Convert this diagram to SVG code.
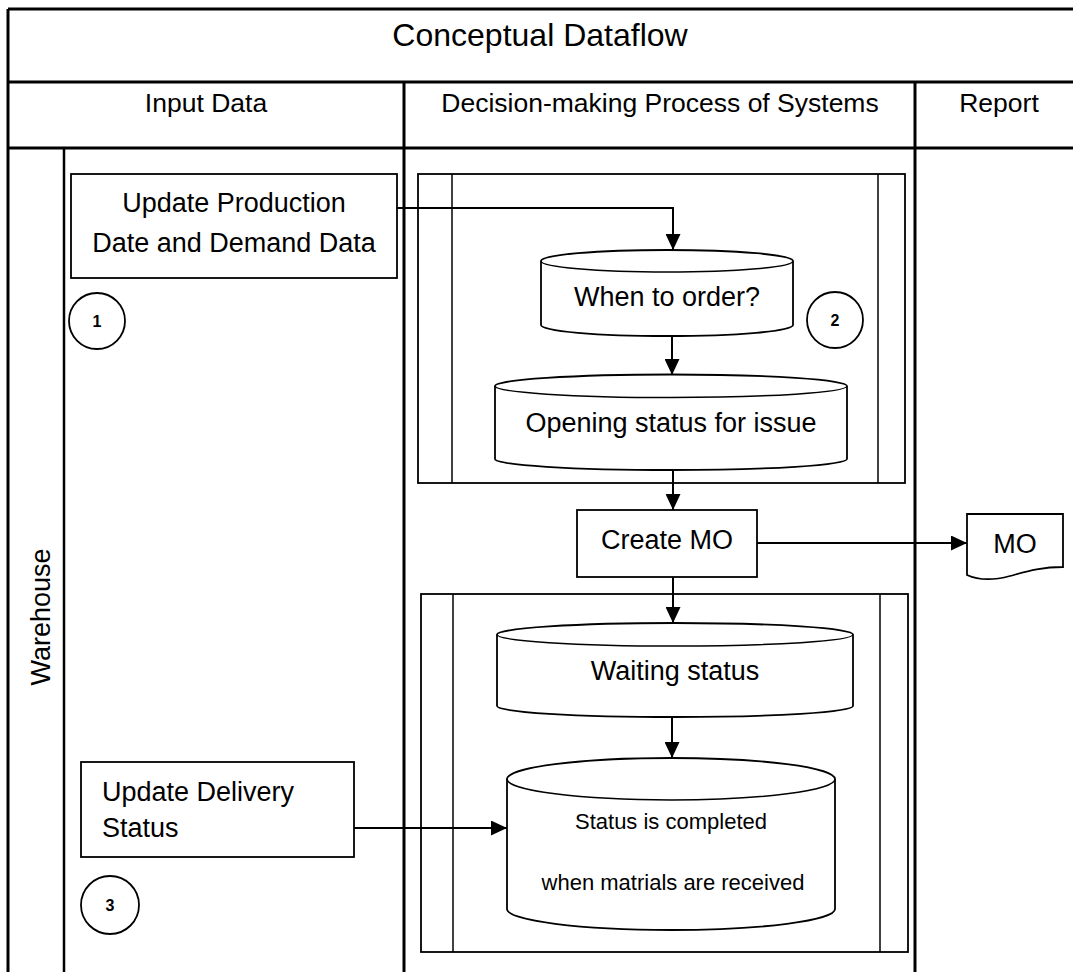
<svg xmlns="http://www.w3.org/2000/svg" width="1073" height="972" viewBox="0 0 1073 972">
  <style>
    text { font-family: "Liberation Sans", Arial, sans-serif; fill: #000; }
    .grid { stroke: #000; stroke-width: 3; fill: none; }
    .lane { stroke: #000; stroke-width: 2.5; fill: none; }
    .node { stroke: #000; stroke-width: 1.8; fill: #fff; }
    .inner { stroke: #000; stroke-width: 1.5; fill: none; }
    .conn { stroke: #000; stroke-width: 2; fill: none; }
    .title { font-size: 32px; text-anchor: middle; }
    .head { font-size: 26.5px; text-anchor: middle; }
    .lbl { font-size: 27px; text-anchor: middle; }
    .small { font-size: 22px; text-anchor: middle; }
    .num { font-size: 16px; font-weight: bold; text-anchor: middle; }
  </style>
  <defs>
    <marker id="arrow" markerUnits="userSpaceOnUse" markerWidth="16" markerHeight="15" refX="16" refY="7.5" orient="auto">
      <path d="M0,0 L16,7.5 L0,15 Z" fill="#000"/>
    </marker>
  </defs>
  <rect x="0" y="0" width="1073" height="972" fill="#fff"/>

  <g id="table">
    <line class="grid" x1="8" y1="9" x2="1073" y2="9"/>
    <line class="grid" x1="8" y1="82" x2="1073" y2="82"/>
    <line class="grid" x1="8" y1="148" x2="1073" y2="148"/>
    <line class="grid" x1="8" y1="9" x2="8" y2="972"/>
    <line class="grid" x1="404" y1="82" x2="404" y2="972"/>
    <line class="grid" x1="915" y1="82" x2="915" y2="972"/>
    <line class="lane" x1="64" y1="148" x2="64" y2="972"/>
    <text class="title" x="540" y="46">Conceptual Dataflow</text>
    <text class="head" x="206" y="112">Input Data</text>
    <text class="head" x="660" y="112">Decision-making Process of Systems</text>
    <text class="head" x="999" y="112">Report</text>
    <text class="lbl" transform="translate(50,617) rotate(-90)">Warehouse</text>
  </g>

  <g id="subprocess1">
    <rect class="node" x="418" y="174" width="487" height="309"/>
    <line class="inner" x1="452" y1="174" x2="452" y2="483"/>
    <line class="inner" x1="878" y1="174" x2="878" y2="483"/>
  </g>

  <g id="subprocess2">
    <rect class="node" x="421" y="594" width="487" height="358"/>
    <line class="inner" x1="453" y1="594" x2="453" y2="952"/>
    <line class="inner" x1="880" y1="594" x2="880" y2="952"/>
  </g>

  <g id="update-production">
    <rect class="node" x="71" y="174" width="326" height="104"/>
    <text class="lbl" x="234" y="212">Update Production</text>
    <text class="lbl" x="234" y="252">Date and Demand Data</text>
  </g>

  <g id="marker1">
    <circle class="node" cx="97" cy="321" r="28"/>
    <text class="num" x="97" y="327">1</text>
  </g>

  <g id="when-to-order">
    <path class="node" d="M541,261 A126,11 0 0 1 793,261 V325 A126,11 0 0 1 541,325 Z"/>
    <path class="inner" d="M541,261 A126,11 0 0 0 793,261"/>
    <text class="lbl" x="667" y="306">When to order?</text>
  </g>

  <g id="marker2">
    <circle class="node" cx="835" cy="320" r="28"/>
    <text class="num" x="835" y="326">2</text>
  </g>

  <g id="opening-status">
    <path class="node" d="M495,386 A176,11.5 0 0 1 847,386 V459 A176,11 0 0 1 495,459 Z"/>
    <path class="inner" d="M495,386 A176,11.5 0 0 0 847,386"/>
    <text class="lbl" x="671" y="432">Opening status for issue</text>
  </g>

  <g id="create-mo">
    <rect class="node" x="577" y="510" width="180" height="67"/>
    <text class="lbl" x="667" y="549">Create MO</text>
  </g>

  <g id="mo-report">
    <path class="node" d="M967,514 H1063 V567 C1040,567 1025,572 1010,576 C995,580 980,581 967,575 Z"/>
    <text class="lbl" x="1015" y="553">MO</text>
  </g>

  <g id="waiting-status">
    <path class="node" d="M497,634.5 A178,11.5 0 0 1 853,634.5 V706 A178,11 0 0 1 497,706 Z"/>
    <path class="inner" d="M497,634.5 A178,11.5 0 0 0 853,634.5"/>
    <text class="lbl" x="675" y="680">Waiting status</text>
  </g>

  <g id="status-completed">
    <path class="node" d="M507,779 A164,21 0 0 1 835,779 V909 A164,21 0 0 1 507,909 Z"/>
    <path class="inner" d="M507,779 A164,21 0 0 0 835,779"/>
    <text class="small" x="671" y="829">Status is completed</text>
    <text class="small" x="673" y="890">when matrials are received</text>
  </g>

  <g id="update-delivery">
    <rect class="node" x="81" y="762" width="273" height="95"/>
    <text class="lbl" x="102" y="801" style="text-anchor:start">Update Delivery</text>
    <text class="lbl" x="102" y="837" style="text-anchor:start">Status</text>
  </g>

  <g id="marker3">
    <circle class="node" cx="110" cy="905" r="29"/>
    <text class="num" x="110" y="911">3</text>
  </g>

  <g id="connectors">
    <path class="conn" d="M397,208 H673 V250" marker-end="url(#arrow)"/>
    <path class="conn" d="M672,337 V375" marker-end="url(#arrow)"/>
    <path class="conn" d="M673,470 V510" marker-end="url(#arrow)"/>
    <path class="conn" d="M757,543 H967" marker-end="url(#arrow)"/>
    <path class="conn" d="M673,577 V623" marker-end="url(#arrow)"/>
    <path class="conn" d="M672,717 V758" marker-end="url(#arrow)"/>
    <path class="conn" d="M354,828 H507" marker-end="url(#arrow)"/>
  </g>
</svg>
